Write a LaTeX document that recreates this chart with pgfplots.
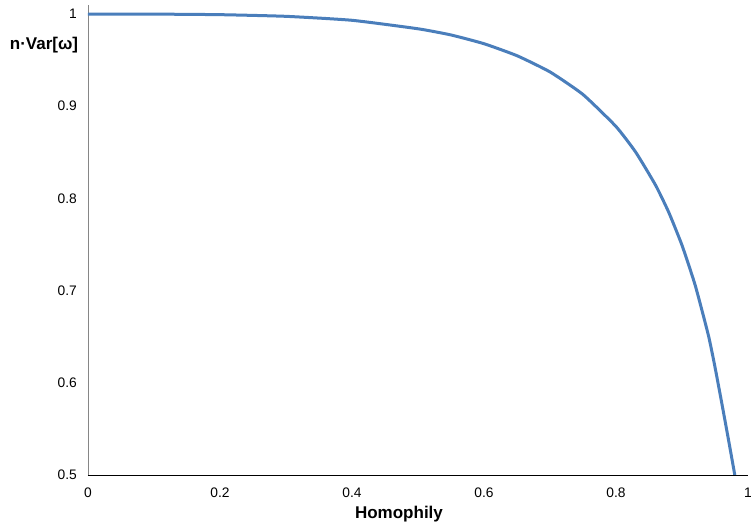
\documentclass[border=0pt]{standalone}
\usepackage{fontspec}
\setmainfont{Liberation Sans}
\usepackage{pgfplots}
\pgfplotsset{compat=1.18}
\definecolor{exblue}{HTML}{4A7EBB}
\definecolor{axgray}{HTML}{868686}
\begin{document}
\begin{tikzpicture}
\begin{axis}[name=ax, scale only axis, width=660pt, height=470pt,
  xmin=0, xmax=1, ymin=0.5, ymax=1.0098,
  axis lines*=left,
  x axis line style={black, line width=0.9pt},
  y axis line style={axgray, line width=0.9pt},
  xtick={0,0.2,0.4,0.6,0.8,1},
  ytick={0.5,0.6,0.7,0.8,0.9,1},
  major tick length=0pt,
  /pgf/number format/assume math mode=true,
  tick label style={font=\fontsize{13.8}{16}\selectfont, inner sep=0pt},
  yticklabel style={xshift=-11pt},
  xticklabel style={yshift=-13pt},
  clip=true]
\addplot[exblue, line width=3pt, smooth, tension=0.3] coordinates {
(0,1) (0.1,0.9999) (0.2,0.9993) (0.3,0.9975) (0.4,0.9932) (0.5,0.984)
(0.55,0.9773) (0.6,0.9678) (0.65,0.9548) (0.7,0.9372) (0.75,0.9127)
(0.8,0.878) (0.83,0.850) (0.86,0.8143) (0.88,0.7848) (0.9,0.7492)
(0.92,0.7058) (0.94,0.6515) (0.95,0.617) (0.96,0.579) (0.97,0.540) (0.98,0.5)
};
\end{axis}
\node[font=\fontsize{17}{20}\selectfont\bfseries, xshift=-44pt, yshift=430pt] at (ax.south west) {n·Var[ω]};
\node[font=\fontsize{17}{20}\selectfont\bfseries, xshift=311pt, yshift=-39pt] at (ax.south west) {Homophily};
\pgfresetboundingbox
\path[use as bounding box] (ax.south west) ++(-88pt,-49pt) rectangle ++(753pt,524pt);
\end{tikzpicture}
\end{document}
